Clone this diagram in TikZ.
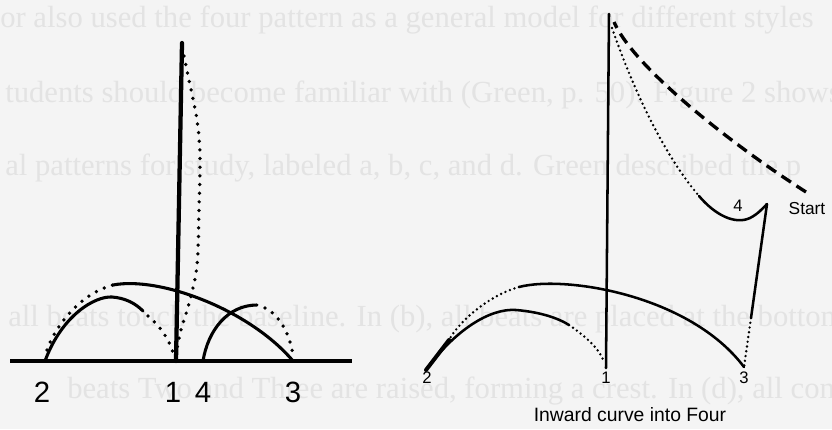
\documentclass[tikz,border=0pt]{standalone}
\usepackage{fontspec}
\setmainfont{Liberation Serif}
\newfontfamily\helv{Liberation Sans}
\usepackage{xcolor}
\usepackage{tikz}
\usetikzlibrary{positioning,calc}

\definecolor{paper}{HTML}{F4F4F4}
\definecolor{ghost}{HTML}{E3E3E3}

\begin{document}
\begin{tikzpicture}[
    x=0.75pt, y=-0.75pt,
    solidline/.style={line width=2.3pt, line cap=round},
    thinline/.style={line width=1.9pt, line cap=round},
    dotline/.style={line width=2.8pt, line cap=round, dash pattern=on 0pt off 6.5pt},
    smalldots/.style={line width=2pt, line cap=round, dash pattern=on 0pt off 3.6pt},
    dashline/.style={line width=2.5pt, dash pattern=on 8.5pt off 5pt},
    bignum/.style={font=\helv\fontsize{22}{24}\selectfont, inner sep=0pt},
    smallnum/.style={font=\helv\fontsize{12.5}{14}\selectfont, inner sep=0pt},
    caption/.style={font=\helv\fontsize{14.5}{16}\selectfont, inner sep=0pt},
    ghosttext/.style={font=\fontsize{23}{24}\selectfont, text=ghost, anchor=base west, inner sep=0pt}
]

\useasboundingbox (0,0) rectangle (832,429);
\fill[paper] (0,0) rectangle (832,429);

% Faint text showing through the page
\begin{scope}
\clip (0,0) rectangle (832,429);
\node[ghosttext] (g1) at (0,27) {or also used the four pattern as a general model for different styles};
\node[ghosttext] (g2) at (5,102) {tudents should become familiar with (Green, p. 50). Figure 2 shows};
\node[ghosttext] (g3) at (5,175) {al patterns for study, labeled a, b, c, and d. Green described the p};
\node[ghosttext] (g4) at (8,326) {all beats touch the baseline. In (b), all beats are placed at the bottom};
\node[ghosttext] (g5) at (67,398) {beats Two and Three are raised, forming a crest. In (d), all connect};
\end{scope}

% Left pattern: baseline and vertical stroke
\coordinate (bl) at (10,361);
\coordinate (br) at (352,361);
\coordinate (l2) at (45,361);
\coordinate (l1) at (176,361);
\coordinate (l4) at (203,361);
\coordinate (l3) at (293,361);
\coordinate (ltop) at (182,43);
\draw[line width=3pt] (bl) -- (br);
\draw[line width=3.2pt, line cap=round] (l1) -- (ltop);

% Beat Two arc, solid then dotted
\coordinate (l2end) at (143,311);
\draw[solidline] (l2) .. controls (62,315) and (95,296) .. (112,297)
    .. controls (125,298) and (135,303) .. (l2end);
\draw[dotline] (148,316) .. controls (160,326) and (170,340) .. (174,356);

% Dotted rise from beat One to the top
\draw[dotline] plot[smooth, tension=0.6] coordinates
    {(184,56) (189,80) (197,120) (200,157) (199,210) (197,265) (190,300) (181,330) (176,354)};

% Outer arc from Two over to Three
\coordinate (lpeak) at (113,285);
\draw[dotline] (47,350) .. controls (58,320) and (85,292) .. (lpeak);
\draw[solidline] (lpeak) .. controls (160,276) and (250,310) .. (l3);

% Beat Four arc, solid then dotted
\coordinate (l4end) at (257,305);
\draw[solidline] (l4) .. controls (208,330) and (228,305) .. (l4end);
\draw[dotline] (265,308) .. controls (280,315) and (290,335) .. (293,355);

% Left labels
\node[bignum] (n2) at (42,392) {2};
\node[bignum] (n1) at (173,392) {1};
\node[bignum] (n4) at (203,392) {4};
\node[bignum] (n3) at (293,392) {3};

% Right pattern: vertical stroke
\coordinate (r1) at (606,368);
\coordinate (rtop) at (609,14);
\draw[thinline] (r1) -- (rtop);

% Start: dashed up, dotted down into Four
\coordinate (rstart) at (806,192);
\coordinate (r4a) at (699,196);
\coordinate (rcusp) at (767,204);
\draw[dashline] (rstart) .. controls (740,150) and (635,70) .. (614,22);
\draw[smalldots] (612,28) .. controls (630,80) and (660,150) .. (r4a);
\draw[thinline] (r4a) .. controls (715,215) and (735,225) .. (750,218)
    .. controls (758,214) and (763,208) .. (rcusp);
\coordinate (rdown) at (751,318);
\coordinate (r3) at (744,367);
\draw[thinline] (rcusp) -- (rdown);
\draw[smalldots] (rdown) -- (r3);

% Outer arc back from Three to Two
\coordinate (rpeak) at (519,287);
\coordinate (rjoin) at (449,340);
\coordinate (r2) at (426,370);
\draw[thinline] (r3) .. controls (690,295) and (565,275) .. (rpeak);
\draw[smalldots] (rpeak) .. controls (490,295) and (460,320) .. (rjoin);
\draw[line width=3pt, line cap=round] (rjoin) -- (r2);

% Inner arc from Two to One
\coordinate (rinner) at (569,325);
\draw[thinline] (r2) .. controls (455,330) and (490,308) .. (516,310)
    .. controls (540,312) and (558,318) .. (rinner);
\draw[smalldots] (rinner) .. controls (588,338) and (600,350) .. (604,362);

% Right labels
\node[smallnum] (m2) at (427,378) {2};
\node[smallnum] (m1) at (606,378) {1};
\node[smallnum] (m3) at (744,378) {3};
\node[smallnum] (m4) at (738,206) {4};
\node[caption, font=\helv\fontsize{13}{15}\selectfont] (start) at (807,209) {Start};
\node[caption] (cap) at (630,415) {Inward curve into Four};

\end{tikzpicture}
\end{document}
